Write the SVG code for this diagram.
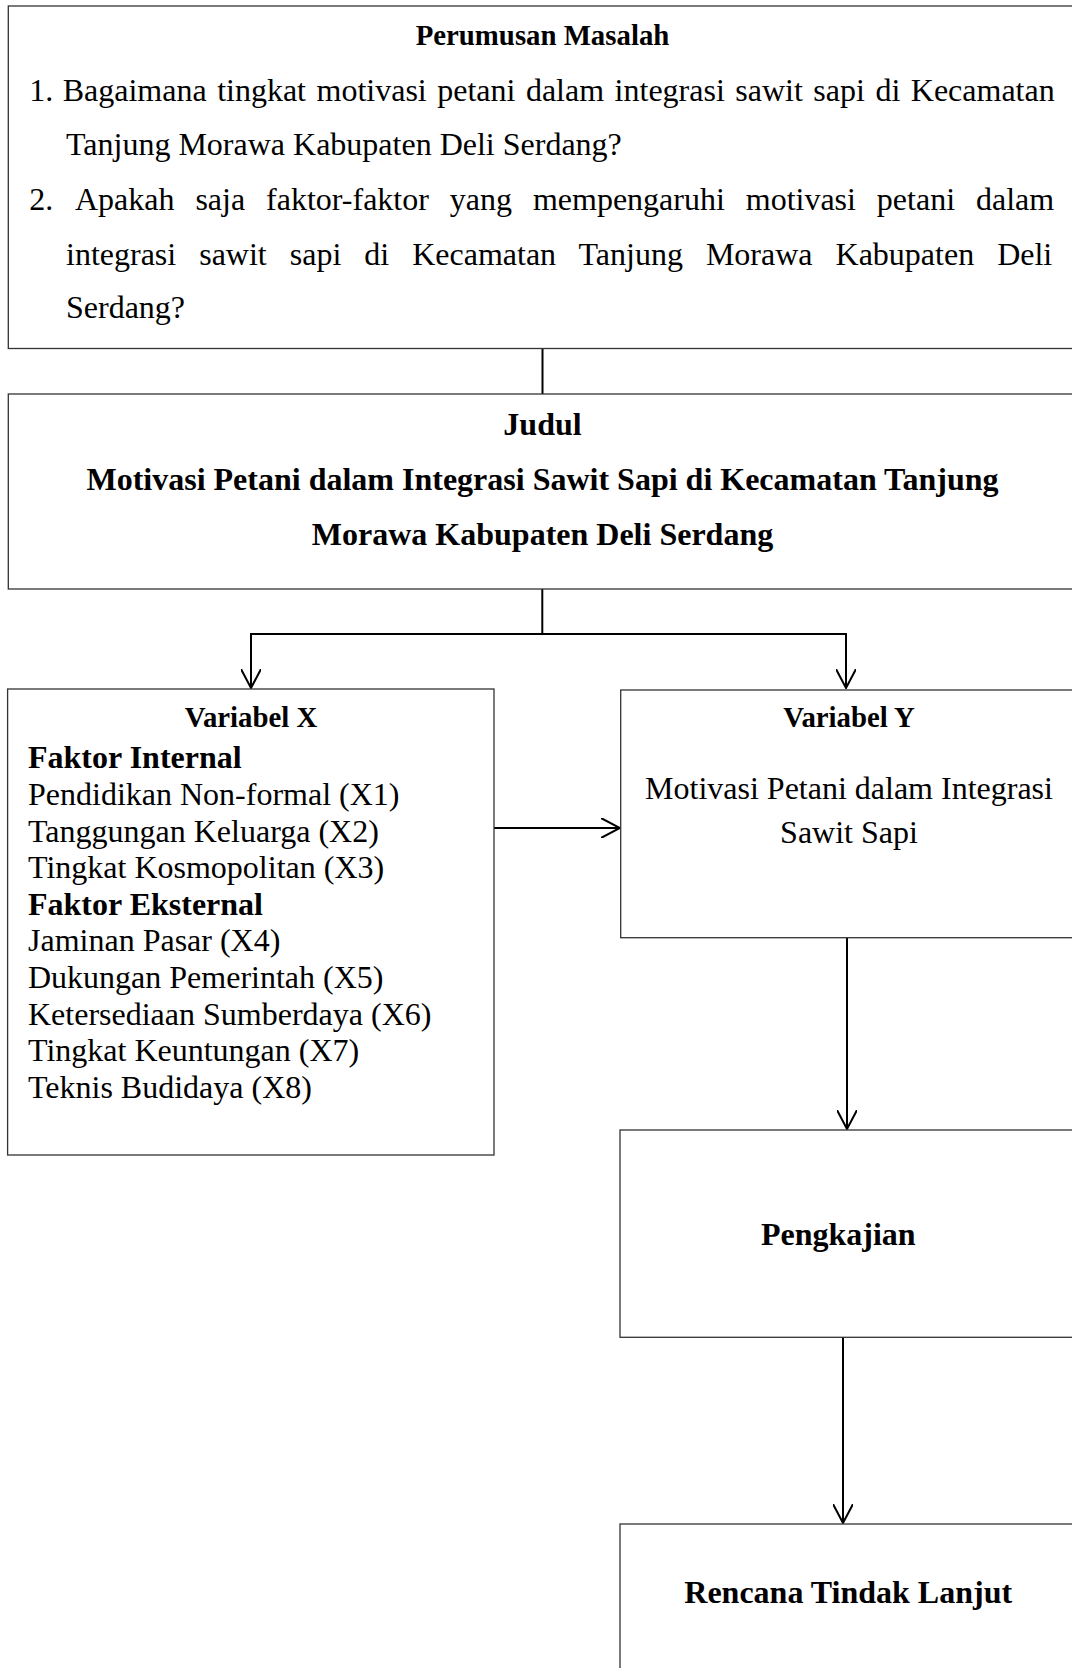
<svg xmlns="http://www.w3.org/2000/svg" width="1072" height="1668" viewBox="0 0 1072 1668">
<style>
text { font-family: "Liberation Serif", "Times New Roman", serif; fill: #000; }
.b { font-weight: bold; }
.h { font-size: 28.8px; font-weight: bold; }
.t { font-size: 32px; }
.box { fill: #fff; stroke: #333; stroke-width: 1.3; }
.con { fill: none; stroke: #000; stroke-width: 2; }
</style>
<defs>
<marker id="arr" viewBox="0 0 20 20" refX="19" refY="10" markerWidth="20" markerHeight="20" markerUnits="userSpaceOnUse" orient="auto">
<path d="M0,0 L19,10 L0,20" fill="none" stroke="#000" stroke-width="2"/>
</marker>
</defs>
<rect width="1072" height="1668" fill="#fff"/>

<g id="connectors">
<line class="con" x1="542.5" y1="349" x2="542.5" y2="394"/>
<polyline class="con" points="542.3,589 542.3,634 251,634 251,688"/>
<polyline class="con" points="542.3,634 846,634 846,688" marker-end="url(#arr)"/>
<line class="con" x1="251" y1="634" x2="251" y2="688" marker-end="url(#arr)"/>
<line class="con" x1="494" y1="828" x2="620" y2="828" marker-end="url(#arr)"/>
<line class="con" x1="847" y1="938" x2="847" y2="1129" marker-end="url(#arr)"/>
<line class="con" x1="843" y1="1337" x2="843" y2="1523" marker-end="url(#arr)"/>
</g>

<g id="perumusan">
<rect class="box" x="8.3" y="6" width="1070" height="342.5"/>
<text class="h" x="542.5" y="45" text-anchor="middle">Perumusan Masalah</text>
<text class="t" x="29.3" y="101">1.</text>
<text class="t" x="62.7" y="101" word-spacing="2.5">Bagaimana tingkat motivasi petani dalam integrasi sawit sapi di Kecamatan</text>
<text class="t" x="66" y="155">Tanjung Morawa Kabupaten Deli Serdang?</text>
<text class="t" x="29.3" y="210">2.</text>
<text class="t" x="75" y="210" word-spacing="12.9">Apakah saja faktor-faktor yang mempengaruhi motivasi petani dalam</text>
<text class="t" x="66" y="265" word-spacing="15">integrasi sawit sapi di Kecamatan Tanjung Morawa Kabupaten Deli</text>
<text class="t" x="66" y="318">Serdang?</text>
</g>

<g id="judul">
<rect class="box" x="8.3" y="394" width="1070" height="195"/>
<text class="t b" x="542.5" y="435" text-anchor="middle">Judul</text>
<text class="t b" x="542.5" y="489.5" text-anchor="middle">Motivasi Petani dalam Integrasi Sawit Sapi di Kecamatan Tanjung</text>
<text class="t b" x="542.5" y="545" text-anchor="middle">Morawa Kabupaten Deli Serdang</text>
</g>

<g id="variabel-x">
<rect class="box" x="7.6" y="689" width="486.4" height="466"/>
<text class="h" x="251" y="727" text-anchor="middle">Variabel X</text>
<text class="t b" x="28" y="768.3">Faktor Internal</text>
<text class="t" x="28" y="804.9">Pendidikan Non-formal (X1)</text>
<text class="t" x="28" y="841.5">Tanggungan Keluarga (X2)</text>
<text class="t" x="28" y="878.1">Tingkat Kosmopolitan (X3)</text>
<text class="t b" x="28" y="914.7">Faktor Eksternal</text>
<text class="t" x="28" y="951.3">Jaminan Pasar (X4)</text>
<text class="t" x="28" y="987.9">Dukungan Pemerintah (X5)</text>
<text class="t" x="28" y="1024.5">Ketersediaan Sumberdaya (X6)</text>
<text class="t" x="28" y="1061.1">Tingkat Keuntungan (X7)</text>
<text class="t" x="28" y="1097.5">Teknis Budidaya (X8)</text>
</g>

<g id="variabel-y">
<rect class="box" x="620.7" y="690" width="458" height="247.7"/>
<text class="h" x="849" y="726.7" text-anchor="middle">Variabel Y</text>
<text class="t" x="849" y="799" text-anchor="middle">Motivasi Petani dalam Integrasi</text>
<text class="t" x="849" y="842.5" text-anchor="middle">Sawit Sapi</text>
</g>

<g id="pengkajian">
<rect class="box" x="620" y="1130" width="458" height="207.3"/>
<text class="t b" x="838.3" y="1245" text-anchor="middle">Pengkajian</text>
</g>

<g id="rencana">
<rect class="box" x="620" y="1524" width="458" height="160"/>
<text class="t b" x="848.2" y="1603" text-anchor="middle">Rencana Tindak Lanjut</text>
</g>
</svg>
